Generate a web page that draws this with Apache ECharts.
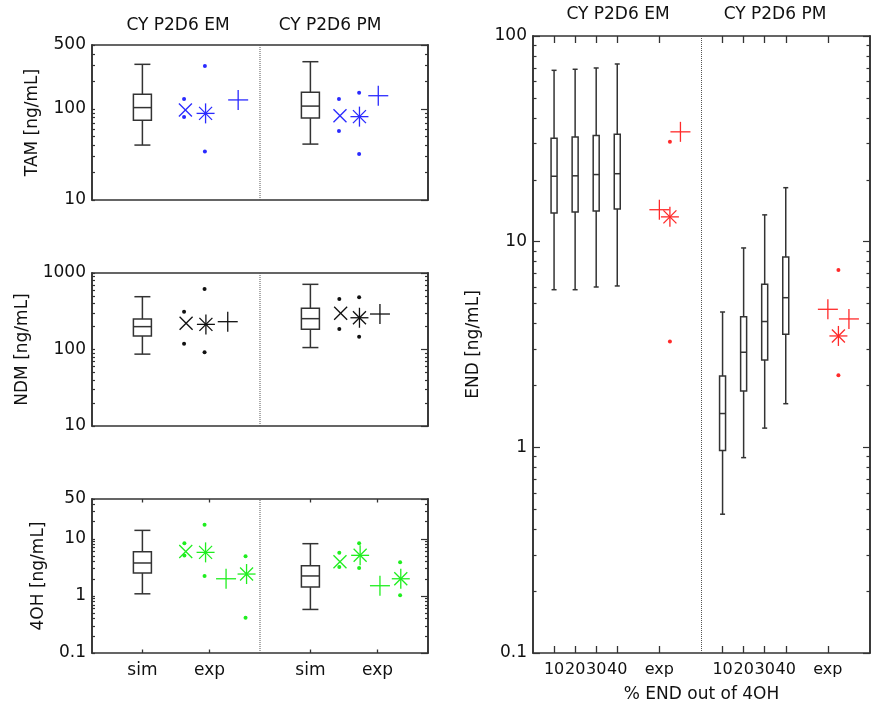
<!DOCTYPE html>
<html><head><meta charset="utf-8">
<script src="https://cdn.jsdelivr.net/npm/echarts@6/dist/echarts.min.js"></script>
<style>html,body{margin:0;padding:0;background:#fff}#c{width:880px;height:712px}</style>
</head><body><div id="c"></div>
<script>
// ---------------- data ----------------
const phenotypes = ['CY P2D6 EM', 'CY P2D6 PM'];
const leftTickNames = ['sim', 'exp'];
const leftTickSlots = [1.5, 3.5, 6.5, 8.5];
const leftSimSlots = [1.5, 6.5];
const leftDivider = 5;
const rightTickNames = ['10', '20', '30', '40', 'exp'];
const rightTickSlots = [1, 2, 3, 4, 6, 9, 10, 11, 12, 14];
const rightSimSlots = [1, 2, 3, 4, 9, 10, 11, 12];
const rightDivider = 8;

// y tick values
const tamMajor = [10, 100, 500];
const tamMinor = [20, 30, 40, 50, 60, 70, 80, 90, 200, 300, 400];
const ndmMajor = [10, 100, 1000];
const ndmMinor = [20, 30, 40, 50, 60, 70, 80, 90, 200, 300, 400, 500, 600, 700, 800, 900];
const ohMajor = [0.1, 1, 10, 50];
const ohMinor = [0.2, 0.3, 0.4, 0.5, 0.6, 0.7, 0.8, 0.9, 2, 3, 4, 5, 6, 7, 8, 9, 20, 30, 40];
const endMajor = [0.1, 1, 10, 100];
const endMinor = [0.2, 0.3, 0.4, 0.5, 0.6, 0.7, 0.8, 0.9, 2, 3, 4, 5, 6, 7, 8, 9, 20, 30, 40, 50, 60, 70, 80, 90];

// simulated boxes: [min, Q1, median, Q3, max]  (EM, PM)
const tamSim = [[40, 75, 103, 144, 307], [41, 79, 107, 152, 328]];
const ndmSim = [[87, 150, 199, 250, 490], [106, 184, 253, 346, 711]];
const ohSim = [[1.09, 2.52, 3.78, 5.96, 14.1], [0.58, 1.43, 2.24, 3.39, 8.24]];
const endSim = [
  [5.84, 13.8, 20.8, 31.8, 68.1], [5.84, 13.95, 20.9, 32.3, 68.9],
  [6.02, 14.1, 21.2, 32.8, 69.9], [6.09, 14.4, 21.4, 33.3, 73.1],
  [0.473, 0.964, 1.46, 2.22, 4.55], [0.891, 1.88, 2.90, 4.32, 9.32],
  [1.24, 2.66, 4.09, 6.21, 13.5], [1.63, 3.55, 5.34, 8.42, 18.3]
];

// experimental points: [x slot, value]
const tamCross = [[2.78, 97], [7.38, 84]];
const tamStar = [[3.38, 89], [7.96, 82]];
const tamPlus = [[4.35, 125], [8.52, 139]];
const tamDots = [[2.74, 81], [2.74, 128], [3.36, 34], [3.36, 295], [7.35, 57], [7.35, 128], [7.95, 32], [7.95, 150]];

const ndmCross = [[2.8, 220], [7.4, 297]];
const ndmStar = [[3.39, 213], [7.96, 260]];
const ndmPlus = [[4.04, 231], [8.57, 291]];
const ndmDots = [[2.74, 119], [2.74, 312], [3.35, 92], [3.35, 618], [7.36, 185], [7.36, 458], [7.95, 147], [7.95, 481]];

const ohCross = [[2.79, 6.0], [7.38, 3.98]];
const ohStar = [[3.38, 5.8], [4.6, 2.42], [7.98, 5.15], [9.19, 2.0]];
const ohPlus = [[3.99, 2.0], [8.57, 1.51]];
const ohDots = [[2.75, 5.1], [2.75, 8.4], [3.35, 2.24], [3.35, 17.7], [4.57, 0.416], [4.57, 4.95],
  [7.36, 3.2], [7.36, 5.7], [7.95, 3.1], [7.95, 8.4], [9.17, 1.03], [9.17, 3.9]];

const endStar = [[6.5, 13.2], [14.5, 3.48]];
const endPlus = [[6.0, 14.3], [7.0, 34.2], [14.0, 4.69], [15.0, 4.21]];
const endDots = [[6.5, 30.6], [6.5, 3.27], [14.5, 7.29], [14.5, 2.24]];

// ---------------- styling / helpers ----------------
const FONT = 'DejaVu Sans';
const AX = '#333';
const TXT = '#111';
const BLUE = '#2a2aff', BLACK = '#111', GREEN = '#1fee1f', RED = '#ff2a2a';

function xAxesFor(gi, max, slots, names, showTicks, showLabels, labelSize, axisName) {
  const fmt = v => {
    const i = slots.findIndex(s => Math.abs(s - v) < 1e-6);
    return i < 0 ? '' : names[i % names.length];
  };
  const common = {
    type: 'value', gridIndex: gi, min: 0, max: max,
    splitLine: { show: false },
    axisLine: { show: true, onZero: false, lineStyle: { color: AX, width: 1.6 } }
  };
  const ticks = showTicks ? { show: true, inside: true, length: showTicks, customValues: slots, lineStyle: { color: AX, width: 1.3 } } : { show: false };
  return [
    Object.assign({}, common, {
      position: 'bottom', axisTick: ticks,
      axisLabel: showLabels ? { show: true, customValues: slots, formatter: fmt, margin: 9, color: TXT, fontSize: labelSize, fontFamily: FONT,
        hideOverlap: false, showMinLabel: true, showMaxLabel: true } : { show: false },
      name: axisName || '', nameLocation: 'middle', nameGap: 33,
      nameTextStyle: { color: TXT, fontSize: 17, fontFamily: FONT }
    }),
    Object.assign({}, common, { position: 'top', axisTick: ticks, axisLabel: { show: false } })
  ];
}

function yAxesFor(gi, min, max, majors, minors, lens, name, nameGap) {
  const base = {
    type: 'log', logBase: 10, gridIndex: gi, min: min, max: max,
    splitLine: { show: false },
    axisLine: { show: true, onZero: false, lineStyle: { color: AX, width: 1.6 } },
    axisLabel: { show: false }
  };
  const tk = (vals, len) => ({ show: true, inside: true, length: len, customValues: vals, lineStyle: { color: AX, width: 1.2 } });
  return [
    Object.assign({}, base, {
      position: 'left', axisTick: tk(majors, lens[0]),
      axisLabel: { show: true, customValues: majors, margin: 6, color: TXT, fontSize: 17, fontFamily: FONT,
        showMinLabel: true, showMaxLabel: true,
        formatter: v => String(+(+v).toPrecision(6)) },
      name: name, nameLocation: 'middle', nameGap: nameGap,
      nameTextStyle: { color: TXT, fontSize: 17, fontFamily: FONT }
    }),
    Object.assign({}, base, { position: 'left', axisTick: tk(minors, lens[1]) }),
    Object.assign({}, base, { position: 'right', axisTick: tk(majors, lens[2]) }),
    Object.assign({}, base, { position: 'right', axisTick: tk(minors, lens[3]) })
  ];
}

function boxSeries(gi, slots, boxes, halfW, capW) {
  return {
    type: 'custom', xAxisIndex: gi * 2, yAxisIndex: gi * 4, silent: true, z: 3,
    data: boxes.map((b, i) => [slots[i]].concat(b)),
    encode: { x: 0, y: [1, 2, 3, 4, 5] },
    renderItem: function (params, api) {
      const x = api.value(0);
      const pMin = api.coord([x, api.value(1)]);
      const pQ1 = api.coord([x, api.value(2)]);
      const pMed = api.coord([x, api.value(3)]);
      const pQ3 = api.coord([x, api.value(4)]);
      const pMax = api.coord([x, api.value(5)]);
      const cx = pMin[0];
      const st = { stroke: '#333', lineWidth: 1.5, fill: null };
      const ln = (x1, y1, x2, y2) => ({ type: 'line', shape: { x1, y1, x2, y2 }, style: st });
      return {
        type: 'group', children: [
          { type: 'rect', shape: { x: cx - halfW, y: pQ3[1], width: 2 * halfW, height: pQ1[1] - pQ3[1] }, style: { stroke: '#333', lineWidth: 1.5, fill: '#fff' } },
          ln(cx - halfW, pMed[1], cx + halfW, pMed[1]),
          ln(cx, pQ3[1], cx, pMax[1]),
          ln(cx, pQ1[1], cx, pMin[1]),
          ln(cx - capW, pMax[1], cx + capW, pMax[1]),
          ln(cx - capW, pMin[1], cx + capW, pMin[1])
        ]
      };
    }
  };
}

const SHAPES = {
  cross: [[-6.5, -6.5, 6.5, 6.5], [-6.5, 6.5, 6.5, -6.5]],
  star: [[-9, 0, 9, 0], [0, -10, 0, 10], [-6.5, -6.5, 6.5, 6.5], [-6.5, 6.5, 6.5, -6.5]],
  plus: [[-10, 0, 10, 0], [0, -10, 0, 10]]
};

function markerSeries(gi, data, kind, color) {
  return {
    type: 'custom', xAxisIndex: gi * 2, yAxisIndex: gi * 4, silent: true, z: 5,
    data: data, encode: { x: 0, y: 1 },
    renderItem: function (params, api) {
      const p = api.coord([api.value(0), api.value(1)]);
      let children;
      if (kind === 'dot') {
        children = [{ type: 'circle', shape: { cx: 0, cy: 0, r: 2 }, style: { fill: color } }];
      } else {
        children = SHAPES[kind].map(s => ({
          type: 'line', shape: { x1: s[0], y1: s[1], x2: s[2], y2: s[3] },
          style: { stroke: color, lineWidth: 1.3 }
        }));
      }
      return { type: 'group', x: p[0], y: p[1], children: children };
    }
  };
}

function dividerSeries(gi, x, min, max) {
  return {
    type: 'line', xAxisIndex: gi * 2, yAxisIndex: gi * 4, silent: true, z: 1,
    data: [[x, min], [x, max]], symbol: 'none', animation: false,
    lineStyle: { type: [1, 1], color: '#555', width: 1 }
  };
}

// ---------------- panels ----------------
const grids = [
  { left: 92, top: 45, width: 336, height: 155 },
  { left: 92, top: 273, width: 336, height: 153 },
  { left: 92, top: 499, width: 336, height: 154 },
  { left: 533, top: 36, width: 337, height: 617 }
];

const xAxes = [].concat(
  xAxesFor(0, 10, leftTickSlots, leftTickNames, 0, false, 17),
  xAxesFor(1, 10, leftTickSlots, leftTickNames, 0, false, 17),
  xAxesFor(2, 10, leftTickSlots, leftTickNames, 3.5, true, 17),
  xAxesFor(3, 16, rightTickSlots, rightTickNames, 7, true, 16, '% END out of 4OH')
);
const yAxes = [].concat(
  yAxesFor(0, 10, 500, tamMajor, tamMinor, [3, 3, 7, 3], 'TAM [ng/mL]', 51),
  yAxesFor(1, 10, 1000, ndmMajor, ndmMinor, [3, 3, 7, 3], 'NDM [ng/mL]', 61),
  yAxesFor(2, 0.1, 50, ohMajor, ohMinor, [3, 3, 7, 3], '4OH [ng/mL]', 45),
  yAxesFor(3, 0.1, 100, endMajor, endMinor, [7, 3.5, 7, 3.5], 'END [ng/mL]', 51)
);

const series = [
  dividerSeries(0, leftDivider, 10, 500),
  dividerSeries(1, leftDivider, 10, 1000),
  dividerSeries(2, leftDivider, 0.1, 50),
  dividerSeries(3, rightDivider, 0.1, 100),

  boxSeries(0, leftSimSlots, tamSim, 9, 8),
  boxSeries(1, leftSimSlots, ndmSim, 9, 8),
  boxSeries(2, leftSimSlots, ohSim, 9, 8),
  boxSeries(3, rightSimSlots, endSim, 3, 2.5),

  markerSeries(0, tamCross, 'cross', BLUE),
  markerSeries(0, tamStar, 'star', BLUE),
  markerSeries(0, tamPlus, 'plus', BLUE),
  markerSeries(0, tamDots, 'dot', BLUE),

  markerSeries(1, ndmCross, 'cross', BLACK),
  markerSeries(1, ndmStar, 'star', BLACK),
  markerSeries(1, ndmPlus, 'plus', BLACK),
  markerSeries(1, ndmDots, 'dot', BLACK),

  markerSeries(2, ohCross, 'cross', GREEN),
  markerSeries(2, ohStar, 'star', GREEN),
  markerSeries(2, ohPlus, 'plus', GREEN),
  markerSeries(2, ohDots, 'dot', GREEN),

  markerSeries(3, endStar, 'star', RED),
  markerSeries(3, endPlus, 'plus', RED),
  markerSeries(3, endDots, 'dot', RED)
];

const titleFont = '17px "DejaVu Sans"';
const graphic = [
  { type: 'text', x: 178, y: 26, style: { text: phenotypes[0], font: titleFont, fill: TXT, align: 'center', verticalAlign: 'middle' } },
  { type: 'text', x: 330, y: 26, style: { text: phenotypes[1], font: titleFont, fill: TXT, align: 'center', verticalAlign: 'middle' } },
  { type: 'text', x: 618, y: 15, style: { text: phenotypes[0], font: titleFont, fill: TXT, align: 'center', verticalAlign: 'middle' } },
  { type: 'text', x: 775, y: 15, style: { text: phenotypes[1], font: titleFont, fill: TXT, align: 'center', verticalAlign: 'middle' } }
];

const chart = echarts.init(document.getElementById('c'), null, { renderer: 'canvas' });
chart.setOption({
  animation: false,
  backgroundColor: '#fff',
  textStyle: { fontFamily: FONT },
  grid: grids.map(g => Object.assign({ containLabel: false, outerBoundsMode: 'none' }, g)),
  xAxis: xAxes,
  yAxis: yAxes,
  graphic: graphic,
  series: series
});
</script>
</body></html>
